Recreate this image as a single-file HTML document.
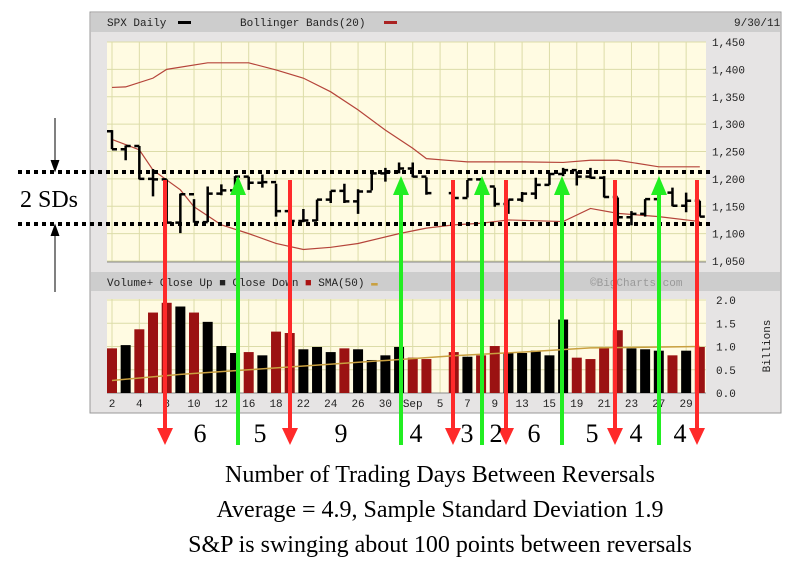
<!DOCTYPE html>
<html><head><meta charset="utf-8"><style>
body{margin:0;background:#fff;width:799px;height:582px;overflow:hidden}
svg{display:block}
.m{font-family:"Liberation Mono",monospace;font-size:11px;fill:#222}
.t{font-family:"Liberation Serif",serif;fill:#000}
</style></head><body>
<svg id="c" width="799" height="582">
<rect x="90" y="12" width="691" height="401" fill="#e6e4e4" stroke="#999"/>
<rect x="91" y="13" width="689" height="19" fill="#cdcdcd"/>
<text class="m" x="107" y="26">SPX Daily</text>
<rect x="178" y="21" width="13" height="3" fill="#000"/>
<text class="m" x="240" y="26">Bollinger Bands(20)</text>
<rect x="384" y="21" width="13" height="3" fill="#a22"/>
<text class="m" x="734" y="26">9/30/11</text>
<rect x="107" y="42" width="599" height="220" fill="#fffbe2"/>
<rect x="91" y="272" width="689" height="19" fill="#cdcdcd"/>
<text class="m" x="107" y="286">Volume+ Close Up ■ Close Down <tspan fill="#a11">■</tspan> SMA(50) <tspan fill="#c9a040">▬</tspan></text>
<text class="m" x="590" y="286" style="fill:#999">©BigCharts.com</text>
<rect x="107" y="299" width="599" height="94" fill="#fffbe2"/>
<text class="m" transform="translate(770,346) rotate(-90)" text-anchor="middle">Billions</text>
<g id="g"></g>
</svg>
<script>
const days=["2","3","4","5","8","9","10","11","12","15","16","17","18","19","22","23","24","25","26","29","30","31","Sep","2","5","6","7","8","9","12","13","14","15","16","19","20","21","22","23","26","27","28","29","30"];
const xLabels=["2","4","8","10","12","16","18","22","24","26","30","Sep","5","7","9","13","15","19","21","23","27","29"];
const highs=[1289,1261,1260,1218,1199,1173,1163,1186,1190,1205,1204,1208,1191,1154,1145,1162,1178,1191,1181,1210,1220,1230,1230,1203,null,1166,1198,1199,1184,1162,1176,1202,1209,1220,1214,1220,1205,1166,1141,1163,1195,1184,1175,1160];
const lows=[1254,1234,1199,1168,1119,1101,1120,1121,1170,1179,1180,1184,1131,1122,1121,1123,1156,1156,1136,1179,1195,1210,1203,1171,null,1140,1166,1183,1149,1136,1158,1163,1189,1205,1188,1201,1166,1115,1115,1131,1163,1150,1139,1131];
const closes=[1254,1260,1200,1199,1120,1172,1121,1173,1179,1204,1193,1194,1141,1123,1124,1162,1178,1159,1177,1210,1213,1219,1204,1174,null,1165,1199,1186,1154,1162,1173,1189,1209,1216,1204,1202,1167,1130,1136,1163,1175,1151,1160,1131];
const volumes=[0.96,1.03,1.37,1.73,1.94,1.86,1.73,1.53,1.01,0.86,0.88,0.81,1.32,1.29,0.94,0.99,0.88,0.96,0.94,0.71,0.81,0.99,0.76,0.73,0,0.88,0.78,0.81,1.01,0.86,0.86,0.91,0.81,1.58,0.76,0.73,0.99,1.35,0.96,0.94,0.91,0.81,0.91,0.99];
const volUp=[0,1,0,0,0,1,0,1,1,1,0,1,0,0,1,1,1,0,1,1,1,1,0,0,0,0,1,0,0,1,1,1,1,1,0,0,0,0,1,1,1,0,1,0];
const smaIdx=[0,5,10,15,20,25,30,35,43];
const smaVals=[0.27,0.4,0.5,0.6,0.7,0.8,0.88,0.97,1.0];
const upIdx=[0,1,3,4,7,10,12,14,16,18,20,22,23,25,26,28,30,33,35,37,40,43];
const upper=[1367,1368,1384,1400,1412,1412,1399,1384,1359,1326,1289,1256,1237,1233,1231,1231,1231,1230,1234,1234,1222,1222];
const loIdx=[0,2,3,5,6,8,10,12,14,16,18,21,23,25,27,29,33,35,37,40,43];
const lower=[1272,1253,1216,1180,1149,1116,1100,1082,1071,1075,1082,1100,1110,1116,1119,1125,1122,1146,1137,1131,1122];
const priceTicks=[1450,1400,1350,1300,1250,1200,1150,1100,1050];
const volTicks=[2.0,1.5,1.0,0.5,0.0];
const redArrows=[165,290,453,506,615,697];
const greenArrows=[238,401,482,562,659];
const gaps=["6","5","9","4","3","2","6","5","4","4"];
const gapX=[200,260,341,416,467,496,534,592,636,680];

const NS="http://www.w3.org/2000/svg",g=document.getElementById('g');
const X=i=>112+13.67*i, PY=p=>42+(1450-p)*0.5475, VY=v=>393-v*46.5;
function mk(t,a,p){const e=document.createElementNS(NS,t);for(const k in a)e.setAttribute(k,a[k]);(p||g).appendChild(e);return e;}
priceTicks.forEach(p=>{const l=mk('line',{x1:107,x2:706,y1:PY(p),y2:PY(p),stroke:'#dcdca8'});


const t=mk('text',{x:712,y:PY(p)+4,class:'m'});t.textContent=p.toLocaleString('en-US');

});
volTicks.forEach(v=>{const l=mk('line',{x1:107,x2:706,y1:VY(v),y2:VY(v),stroke:'#dcdca8'});


const t=mk('text',{x:716,y:VY(v)+4,class:'m'});t.textContent=v.toFixed(1);

});
xLabels.forEach((s,k)=>{const x=X(k*2);
const l=mk('line',{x1:x,x2:x,y1:42,y2:262,stroke:'#dcdca8'});


const l2=mk('line',{x1:x,x2:x,y1:299,y2:393,stroke:'#dcdca8'});


const t=mk('text',{x:x,y:407,class:'m','text-anchor':'middle'});t.textContent=s;

});
mk('line',{x1:107,x2:706,y1:262,y2:262,stroke:'#888'});
mk('line',{x1:107,x2:706,y1:393,y2:393,stroke:'#888'});
function poly(idx,vals,Y,col,name,w){const pts=idx.map((i,k)=>X(i)+','+Y(vals[k])).join(' ');
const e=mk('polyline',{points:pts,fill:'none',stroke:col,'stroke-width':w});

}
poly(upIdx,upper,PY,'#b5443a','bollinger-upper',1.2);
poly(loIdx,lower,PY,'#b5443a','bollinger-lower',1.2);
closes.forEach((c,i)=>{if(c==null)return;const o=i?closes[i-1]||closes[i-2]:1287;const x=X(i);
const b=mk('path',{d:`M${x},${PY(highs[i])}V${PY(lows[i])}M${x-5},${PY(o)}H${x}M${x},${PY(c)}H${x+5}`,stroke:'#000','stroke-width':2.5,fill:'none'});

});
volumes.forEach((v,i)=>{if(!v)return;const r=mk('rect',{x:X(i)-5,y:VY(v),width:10,height:393-VY(v),fill:volUp[i]?'#000':'#9b1212'});

});
poly(smaIdx,smaVals,VY,'#c9a040','volume-sma50',1.5);
[172,224].forEach(y=>{const l=mk('line',{x1:18,x2:712,y1:y,y2:y,stroke:'#000','stroke-width':4,'stroke-dasharray':'4 4'});

});
mk('path',{d:'M55,118V170M51,160L55,171L59,160M55,292V226M51,236L55,225L59,236',stroke:'#000','stroke-width':1,fill:'#000'});
const sd=mk('text',{x:20,y:207,class:'t','font-size':24});sd.textContent='2 SDs';


redArrows.forEach(x=>{const a=mk('path',{d:`M${x-2},180H${x+2}V428H${x+8}L${x},445L${x-8},428H${x-2}Z`,fill:'#ff2a2a'});

});
greenArrows.forEach(x=>{const a=mk('path',{d:`M${x-2},445H${x+2}V195H${x+8}L${x},176L${x-8},195H${x-2}Z`,fill:'#22ee22'});

});
gaps.forEach((s,k)=>{const t=mk('text',{x:gapX[k],y:442,class:'t','font-size':26,'text-anchor':'middle'});t.textContent=s;

});
["Number of Trading Days Between Reversals","Average = 4.9, Sample Standard Deviation 1.9","S&P is swinging about 100 points between reversals"].forEach((s,k)=>{
const t=mk('text',{x:440,y:482+k*35,class:'t','font-size':24,'text-anchor':'middle'});t.textContent=s;

});
</script>
</body></html>
